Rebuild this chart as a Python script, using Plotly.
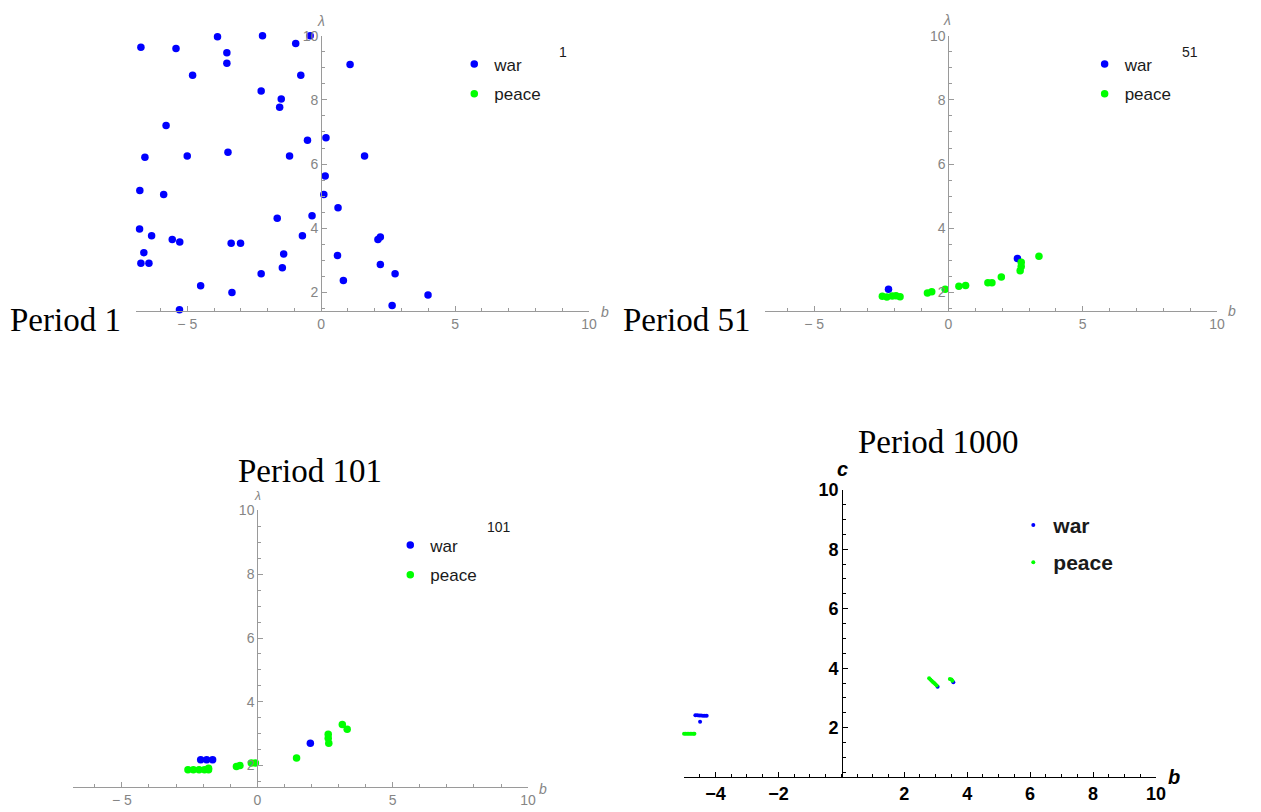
import plotly.graph_objects as go

W, H = 1261, 812

# ---------------- data ----------------
# Period 1: every agent at war
p1_war_b = [-6.73, -5.42, -3.87, -2.19, -0.41, -0.95, -3.52, -3.52, 1.08, -4.80,
            -0.76, -2.24, -1.49, -1.55, -5.79, -0.51, 0.18, -6.58, -5.00, -3.48,
            -1.18, 1.62, 0.15, -6.77, -5.88, 0.10, 0.63, -1.64, -0.34, -6.78,
            -6.33, -5.56, -5.28, -3.36, -3.01, -0.70, 2.12, 2.21, -6.62, -6.73,
            -6.43, -1.40, 0.61, -1.45, 2.21, -2.24, 2.76, -4.50, 0.83, -3.33,
            3.99, 2.65, -5.29]
p1_war_lam = [9.64, 9.60, 9.97, 10.00, 10.00, 9.76, 9.47, 9.14, 9.10, 8.77,
              8.77, 8.28, 8.03, 7.77, 7.20, 6.74, 6.82, 6.21, 6.25, 6.37,
              6.25, 6.25, 5.63, 5.18, 5.05, 5.05, 4.64, 4.31, 4.39, 3.98,
              3.77, 3.65, 3.57, 3.53, 3.53, 3.77, 3.65, 3.73, 3.24, 2.91,
              2.91, 3.20, 3.15, 2.77, 2.87, 2.58, 2.58, 2.21, 2.37, 2.00,
              1.92, 1.59, 1.46]
p1_peace_b = [None]
p1_peace_lam = [None]

# Period 51
p51_war_b = [-2.23, 2.57]
p51_war_lam = [2.10, 3.06]
p51_peace_b = [-2.46, -2.29, -2.09, -1.95, -1.80, -0.78, -0.62, -0.12, 0.39, 0.64,
               1.47, 1.62, 1.97, 2.67, 2.71, 2.71, 3.37]
p51_peace_lam = [1.88, 1.86, 1.89, 1.90, 1.87, 1.98, 2.02, 2.10, 2.19, 2.22,
                 2.30, 2.30, 2.48, 2.68, 2.81, 2.94, 3.13]

# Period 101
p101_war_b = [-2.09, -1.87, -1.65, 1.96]
p101_war_lam = [2.18, 2.18, 2.18, 2.70]
p101_peace_b = [-2.56, -2.36, -2.15, -1.95, -1.80, -1.80, -0.77, -0.64, -0.22, -0.07,
                1.45, 2.62, 2.62, 2.64, 3.14, 3.32]
p101_peace_lam = [1.87, 1.87, 1.87, 1.87, 1.87, 1.92, 1.97, 2.00, 2.08, 2.08,
                  2.24, 2.98, 2.86, 2.70, 3.29, 3.14]

# Period 1000
p1000_war_b = [-4.64, -4.58, -4.52, -4.46, -4.40, -4.34, -4.28, -4.49, 3.06, 3.56]
p1000_war_c = [2.42, 2.42, 2.41, 2.41, 2.40, 2.40, 2.40, 2.20, 3.38, 3.53]
p1000_peace_b = [-5.00, -4.95, -4.90, -4.85, -4.80, -4.75, -4.70, -4.67,
                 2.79, 2.83, 2.87, 2.91, 2.95, 2.99, 3.03, 3.45, 3.50, 3.53]
p1000_peace_c = [1.80, 1.80, 1.80, 1.80, 1.80, 1.80, 1.80, 1.80,
                 3.66, 3.62, 3.58, 3.54, 3.50, 3.46, 3.42, 3.64, 3.62, 3.58]

period_labels = ["1", "51", "101"]
panel_titles = ["Period 1", "Period 51", "Period 101", "Period 1000"]

BLUE = "#0000ff"
GREEN = "#00ff00"
GREY_AX = "#9a9a9a"
GREY_TXT = "#858585"
SANS = "Liberation Sans, Arial, sans-serif"
SERIF = "Liberation Serif, Times New Roman, serif"

fig = go.Figure()

panels = [
    # (war b, war y, peace b, peace y, axis suffix, legend name, marker size)
    (p1_war_b, p1_war_lam, p1_peace_b, p1_peace_lam, "", "legend", 7.5),
    (p51_war_b, p51_war_lam, p51_peace_b, p51_peace_lam, "2", "legend2", 7.5),
    (p101_war_b, p101_war_lam, p101_peace_b, p101_peace_lam, "3", "legend3", 7.5),
    (p1000_war_b, p1000_war_c, p1000_peace_b, p1000_peace_c, "4", "legend4", 4),
]

for wb, wy, pb, py, sfx, leg, ms in panels:
    fig.add_trace(go.Scatter(x=wb, y=wy, mode="markers", name="war",
                             marker=dict(color=BLUE, size=ms, line_width=0),
                             xaxis="x" + sfx, yaxis="y" + sfx, legend=leg,
                             legendgroup="war" + sfx, cliponaxis=False))
    fig.add_trace(go.Scatter(x=pb, y=py, mode="markers", name="peace",
                             marker=dict(color=GREEN, size=ms, line_width=0),
                             xaxis="x" + sfx, yaxis="y" + sfx, legend=leg,
                             legendgroup="peace" + sfx, cliponaxis=False))


def px_x(v):
    return v / W


def px_y(v):
    return 1 - v / H


def grey_axes(x0, x1, xr, yt, yb, yr, ypos):
    xa = dict(domain=[px_x(x0), px_x(x1)], range=xr, showgrid=False, zeroline=False,
              showline=True, linecolor=GREY_AX, linewidth=1,
              ticks="inside", ticklen=5, tickwidth=1, tickcolor=GREY_AX,
              tickmode="array", tickvals=[-5, 0, 5, 10], ticktext=["\u2212 5", "0", "5", "10"],
              tickfont=dict(family=SANS, size=14, color=GREY_TXT),
              minor=dict(ticks="inside", ticklen=3, tickcolor=GREY_AX, tickmode="linear",
                         tick0=0, dtick=1, showgrid=False),
              fixedrange=True)
    ya = dict(domain=[px_y(yb), px_y(yt)], range=yr, showgrid=False, zeroline=False,
              showline=True, linecolor=GREY_AX, linewidth=1, anchor="free",
              position=px_x(ypos), side="left",
              ticks="inside", ticklen=5, tickwidth=1, tickcolor=GREY_AX,
              tickmode="array", tickvals=[2, 4, 6, 8, 10],
              tickfont=dict(family=SANS, size=14, color=GREY_TXT),
              minor=dict(ticks="inside", ticklen=3, tickcolor=GREY_AX, tickmode="linear",
                         tick0=0, dtick=0.5, showgrid=False),
              fixedrange=True)
    return xa, ya


xa1, ya1 = grey_axes(136.9, 593.7, [-6.92, 10], 26, 304.5, [1.43, 10], 323.7)
xa2, ya2 = grey_axes(771.3, 1226.8, [-6.82, 10], 26, 304.5, [1.43, 10], 956)
xa3, ya3 = grey_axes(74, 532.3, [-6.79, 10], 506.7, 786.5, [1.334, 10], 259.3)
xa1["anchor"] = "y"
xa2["anchor"] = "y2"
xa3["anchor"] = "y3"

xa4 = dict(domain=[px_x(689.5), px_x(1165.2)], range=[-5, 10], anchor="y4",
           showgrid=False, zeroline=False, showline=True, linecolor="black", linewidth=1,
           ticks="inside", ticklen=5, tickwidth=1, tickcolor="black",
           tickmode="array", tickvals=[-4, -2, 2, 4, 6, 8, 10],
           ticktext=["\u22124", "\u22122", "2", "4", "6", "8", "10"],
           tickfont=dict(family=SANS, size=18, color="black", weight="bold"),
           minor=dict(ticks="inside", ticklen=3, tickcolor="black", tickmode="linear",
                      tick0=0, dtick=0.5, showgrid=False),
           fixedrange=True)
ya4 = dict(domain=[px_y(776.7), px_y(485.7)], range=[0.34, 10], anchor="free",
           position=px_x(848.9), side="left",
           showgrid=False, zeroline=False, showline=True, linecolor="black", linewidth=1,
           ticks="inside", ticklen=5, tickwidth=1, tickcolor="black",
           tickmode="array", tickvals=[2, 4, 6, 8, 10],
           tickfont=dict(family=SANS, size=18, color="black", weight="bold"),
           minor=dict(ticks="inside", ticklen=3, tickcolor="black", tickmode="linear",
                      tick0=0, dtick=0.5, showgrid=False),
           fixedrange=True)


def legend_at(left, top, size, gap, bold=False):
    font = dict(family=SANS, size=size, color="#1a1a1a")
    if bold:
        font["weight"] = "bold"
    return dict(x=px_x(left), y=px_y(top), xanchor="left", yanchor="top",
                bgcolor="rgba(0,0,0,0)", borderwidth=0, font=font,
                tracegroupgap=gap, itemsizing="trace", itemclick=False,
                itemdoubleclick=False)


annotations = []


def note(x, y, text, size, color, family=SANS, xanchor="center"):
    annotations.append(dict(x=px_x(x), y=px_y(y), xref="paper", yref="paper",
                            text=text, showarrow=False, xanchor=xanchor, yanchor="middle",
                            font=dict(family=family, size=size, color=color)))


# period counters in the top-right of each panel
note(567, 43, period_labels[0], 14, "#1a1a1a")
note(1199.4, 43, period_labels[1], 14, "#1a1a1a")
note(503.4, 523, period_labels[2], 14, "#1a1a1a")

# axis names
note(323.7, 11, "<i>\u03bb</i>", 14, GREY_TXT)
note(954.8, 10, "<i>\u03bb</i>", 14, GREY_TXT)
note(259.2, 492.5, "<i>\u03bb</i>", 12, GREY_TXT)
note(609.4, 306, "<i>b</i>", 14, GREY_TXT)
note(1242.3, 305, "<i>b</i>", 14, GREY_TXT)
note(547, 789, "<i>b</i>", 14, GREY_TXT)
note(848.9, 465, "<b><i>c</i></b>", 20, "black")
note(1183, 777, "<b><i>b</i></b>", 20, "black")

# panel titles
note(66.3, 314, panel_titles[0], 33, "black", SERIF)
note(692, 314, panel_titles[1], 33, "black", SERIF)
note(312.6, 467, panel_titles[2], 33, "black", SERIF)
note(946, 437, panel_titles[3], 33, "black", SERIF)

fig.update_layout(
    width=W, height=H, margin=dict(l=0, r=0, t=0, b=0),
    paper_bgcolor="white", plot_bgcolor="white",
    xaxis=xa1, yaxis=ya1, xaxis2=xa2, yaxis2=ya2,
    xaxis3=xa3, yaxis3=ya3, xaxis4=xa4, yaxis4=ya4,
    legend=legend_at(457.9, 37, 17, 4.5),
    legend2=legend_at(1093.3, 37, 17, 4.5),
    legend3=legend_at(393.4, 524, 17, 4.5),
    legend4=legend_at(1021.4, 501, 21, 7, bold=True),
    annotations=annotations,
    showlegend=True,
    hovermode=False,
)

fig.write_html("out.html")
